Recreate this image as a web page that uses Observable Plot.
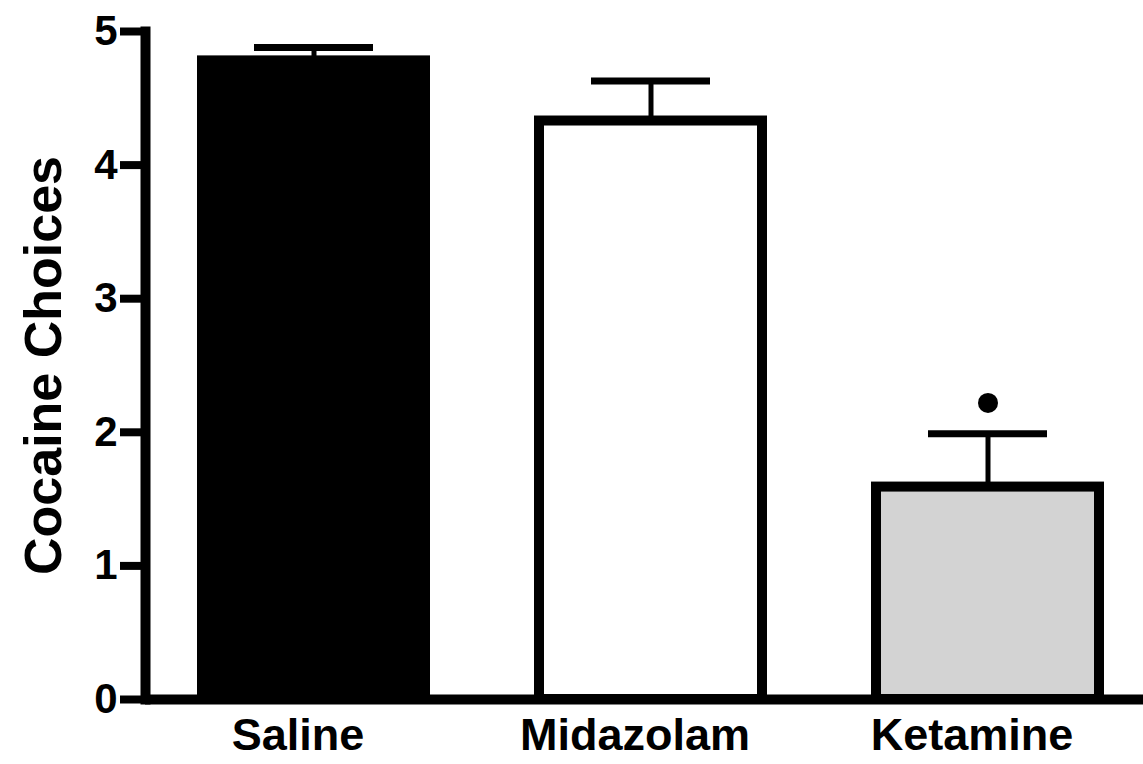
<!DOCTYPE html>
<html>
<head>
<meta charset="utf-8">
<script src="https://cdn.jsdelivr.net/npm/d3@7"></script>
<script src="https://cdn.jsdelivr.net/npm/@observablehq/plot@0.6"></script>
<style>
  html, body { margin: 0; padding: 0; background: #fff; }
  svg { display: block; }
</style>
</head>
<body>
<div id="chart"></div>
<script>
// ---- data ----
const groups = ["Saline", "Midazolam", "Ketamine"];
const means = [4.78, 4.33, 1.59];
const sems = [0.10, 0.30, 0.40];
const sigGroups = ["Ketamine"];
const sigY = [2.22];
const yTicks = [0, 1, 2, 3, 4, 5];
const yLabel = "Cocaine Choices";

const rows = groups.map((g, i) => ({group: g, mean: means[i], sem: sems[i]}));
const sig = sigGroups.map((g, i) => ({group: g, y: sigY[i]}));

const font = "'Liberation Sans', Arial, Helvetica, sans-serif";

const chart = Plot.plot({
  width: 1143,
  height: 764,
  marginLeft: 145,
  marginRight: 0,
  marginTop: 31,
  marginBottom: 65,
  style: {fontFamily: font, fontWeight: "bold", background: "white", color: "black"},
  x: {domain: groups, paddingInner: 0.339, paddingOuter: 0.148, align: 0.56, axis: null},
  y: {domain: [0, 5], axis: null},
  color: {domain: groups, range: ["black", "white", "#d3d3d3"]},
  marks: [
    Plot.barY(rows, {x: "group", y: "mean", fill: "group", stroke: "black", strokeWidth: 10}),
    Plot.ruleX(rows, {x: "group", y1: "mean", y2: d => d.mean + d.sem, stroke: "black", strokeWidth: 5}),
    Plot.tickY(rows, {x: "group", y: d => d.mean + d.sem, stroke: "black", strokeWidth: 7, insetLeft: 52, insetRight: 52}),
    Plot.dot(sig, {x: "group", y: "y", r: 10, fill: "black", stroke: null}),
    Plot.ruleY([0], {stroke: "black", strokeWidth: 10}),
    Plot.frame({anchor: "left", stroke: "black", strokeWidth: 10}),
    Plot.axisY({ticks: yTicks, tickSize: 25, tickPadding: 3, strokeWidth: 8, fontSize: 42, fontWeight: "bold", label: null, tickFormat: d => String(d)}),
    Plot.axisX({domain: groups, tickSize: 0, tickPadding: 19, dx: -16, fontSize: 45, fontWeight: "bold", label: null}),
    Plot.text([yLabel], {frameAnchor: "left", textAnchor: "middle", rotate: -90, dx: -85, lineAnchor: "bottom", fontSize: 52, fontWeight: "bold", fill: "black"})
  ]
});
document.getElementById("chart").appendChild(chart);
</script>
</body>
</html>
